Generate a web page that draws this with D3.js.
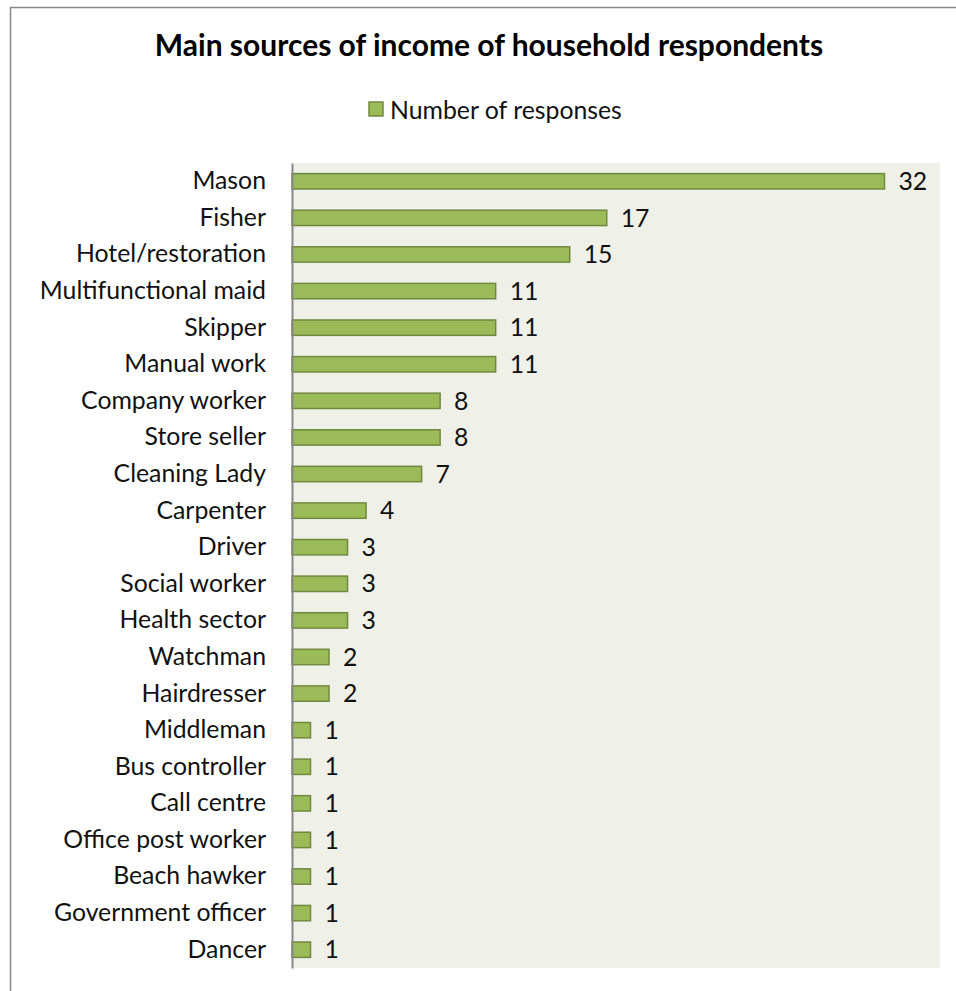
<!DOCTYPE html>
<html>
<head>
<meta charset="utf-8">
<script src="https://cdn.jsdelivr.net/npm/d3@7"></script>
<style>
  body { margin: 0; background: #fff; }
  svg { display: block; }
</style>
</head>
<body>
<svg id="chart" width="956" height="991"></svg>
<script>
const categories = ["Mason", "Fisher", "Hotel/restoration", "Multifunctional maid", "Skipper ",
  "Manual work", "Company worker", "Store seller", "Cleaning Lady", "Carpenter", "Driver",
  "Social worker", "Health sector", "Watchman", "Hairdresser", "Middleman", "Bus controller ",
  "Call centre", "Office post worker", "Beach hawker", "Government officer", "Dancer"];
const responses = [32, 17, 15, 11, 11, 11, 8, 8, 7, 4, 3, 3, 3, 2, 2, 1, 1, 1, 1, 1, 1, 1];
const seriesName = "Number of responses";
const title = "Main sources of income of household respondents";

const font = "Lato, 'Open Sans', sans-serif";
const svg = d3.select("#chart");

// outer chart border (only left and top visible)
svg.append("rect")
  .attr("x", 10.5).attr("y", 7.5)
  .attr("width", 980).attr("height", 1000)
  .attr("fill", "#fff")
  .attr("stroke", "#888").attr("stroke-width", 1.5);

const plot = { left: 292, right: 940, top: 163, bottom: 968 };

svg.append("rect")
  .attr("x", plot.left).attr("y", plot.top)
  .attr("width", plot.right - plot.left).attr("height", plot.bottom - plot.top)
  .attr("fill", "#eff1e8");

const x = d3.scaleLinear().domain([0, 35]).range([plot.left, plot.right]);
const y = d3.scaleBand().domain(categories).range([plot.top, plot.bottom]).paddingInner(0.58).paddingOuter(0.29);

const data = categories.map((c, i) => ({ cat: c, val: responses[i] }));

svg.selectAll("rect.bar")
  .data(data)
  .enter()
  .append("rect")
  .attr("class", "bar")
  .attr("x", x(0))
  .attr("y", d => y(d.cat))
  .attr("width", d => x(d.val) - x(0))
  .attr("height", y.bandwidth())
  .attr("fill", "#9bbb59")
  .attr("stroke", "#71893f")
  .attr("stroke-width", 1.5);

svg.selectAll("text.val")
  .data(data)
  .enter()
  .append("text")
  .attr("class", "val")
  .attr("x", d => x(d.val) + 14)
  .attr("y", d => y(d.cat) + y.bandwidth() / 2)
  .attr("dy", "0.35em")
  .attr("font-family", font)
  .attr("font-size", 24.8)
  .attr("fill", "#111")
  .text(d => d.val);

// category axis
const yAxis = svg.append("g")
  .attr("transform", "translate(" + plot.left + ",0)")
  .call(d3.axisLeft(y).tickSize(0).tickPadding(26));
yAxis.select(".domain").attr("stroke", "#888").attr("stroke-width", 2);
yAxis.selectAll("text")
  .attr("font-family", font)
  .attr("font-size", 24.8)
  .attr("fill", "#111");

// title
svg.append("text")
  .attr("x", 489).attr("y", 56)
  .attr("text-anchor", "middle")
  .attr("font-family", font)
  .attr("font-weight", "bold")
  .attr("font-size", 30)
  .attr("fill", "#000")
  .text(title);

// legend
svg.append("rect")
  .attr("x", 369).attr("y", 102)
  .attr("width", 14).attr("height", 14)
  .attr("fill", "#9bbb59")
  .attr("stroke", "#71893f").attr("stroke-width", 1.5);
svg.append("text")
  .attr("x", 390).attr("y", 110)
  .attr("dy", "0.35em")
  .attr("font-family", font)
  .attr("font-size", 24.8)
  .attr("fill", "#111")
  .text(seriesName);
</script>
</body>
</html>
